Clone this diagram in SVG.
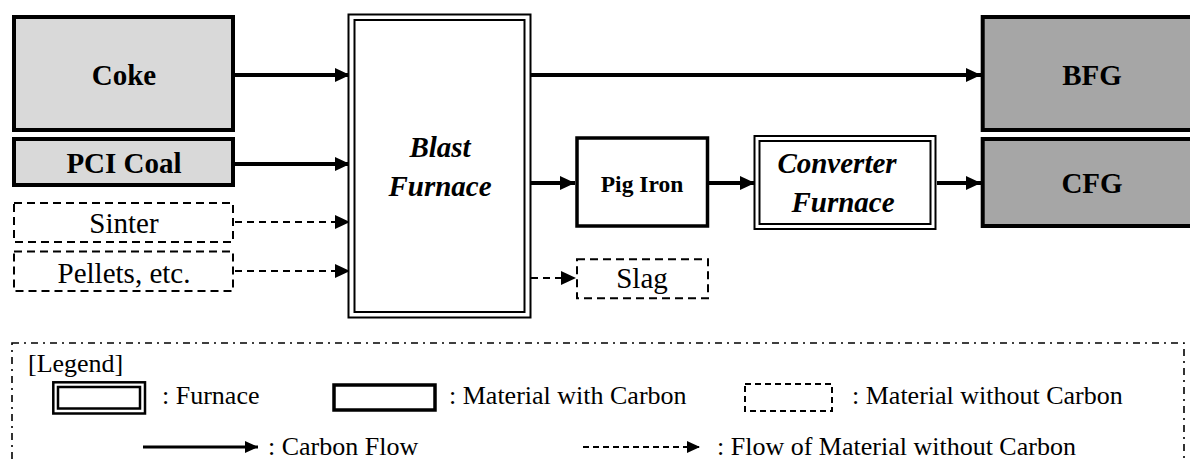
<svg xmlns="http://www.w3.org/2000/svg" width="1190" height="462" viewBox="0 0 1190 462">
<style>
text{font-family:'Liberation Serif','Times New Roman','DejaVu Serif',serif;fill:#000}
.b{font-weight:bold;font-size:29px}
.bi{font-weight:bold;font-style:italic;font-size:29px}
.r{font-size:29px}
.lg{font-size:26px}
.solid{fill:none;stroke:#000;stroke-width:4}
.light{fill:#d9d9d9;stroke:#000;stroke-width:4}
.dark{fill:#a6a6a6;stroke:#000;stroke-width:4}
.dash{fill:#fff;stroke:#000;stroke-width:2;stroke-dasharray:8 5}
.fur{fill:#fff;stroke:#000;stroke-width:2}
.cf{fill:none;stroke:#000;stroke-width:4;marker-end:url(#ah)}
.df{fill:none;stroke:#000;stroke-width:2;stroke-dasharray:7 5;marker-end:url(#ah)}
</style>
<defs>
<marker id="ah" markerUnits="userSpaceOnUse" markerWidth="15" markerHeight="14" refX="15" refY="7" orient="auto">
<path d="M0,0 L15,7 L0,14 z" fill="#000"/>
</marker>
<marker id="ahs" markerUnits="userSpaceOnUse" markerWidth="13" markerHeight="12" refX="13" refY="6" orient="auto">
<path d="M0,0 L13,6 L0,12 z" fill="#000"/>
</marker>
</defs>

<g id="connectors">
<line class="cf" x1="235" y1="75" x2="350" y2="75"/>
<line class="cf" x1="235" y1="164" x2="350" y2="164"/>
<line class="df" x1="235" y1="222" x2="350" y2="222"/>
<line class="df" x1="235" y1="271" x2="350" y2="271"/>
<line class="cf" x1="531" y1="75" x2="981" y2="75"/>
<line class="cf" x1="531" y1="183" x2="575" y2="183"/>
<line class="cf" x1="709" y1="183" x2="755" y2="183"/>
<line class="cf" x1="937" y1="183" x2="981" y2="183"/>
<line class="df" x1="531" y1="278" x2="576" y2="278"/>
</g>

<g id="coke" font-family="Liberation Serif, serif">
<rect class="light" x="14" y="17" width="219" height="113"/>
<text class="b" x="124" y="85" text-anchor="middle">Coke</text>
</g>
<g id="pci-coal">
<rect class="light" x="14" y="139" width="219" height="46"/>
<text class="b" x="124" y="173" text-anchor="middle">PCI Coal</text>
</g>
<g id="sinter">
<rect class="dash" x="14" y="203" width="219" height="39"/>
<text class="r" x="124" y="233" text-anchor="middle">Sinter</text>
</g>
<g id="pellets">
<rect class="dash" x="14" y="251.5" width="219" height="39.5"/>
<text class="r" x="124" y="283" text-anchor="middle">Pellets, etc.</text>
</g>

<g id="blast-furnace">
<rect class="fur" x="348.5" y="14.5" width="182" height="303"/>
<rect class="fur" x="354.5" y="20" width="170" height="292"/>
<text class="bi" x="440" y="157" text-anchor="middle">Blast</text>
<text class="bi" x="440" y="196" text-anchor="middle">Furnace</text>
</g>

<g id="pig-iron">
<rect class="solid" x="577" y="138" width="130.5" height="88" style="stroke-width:3.5;fill:#fff"/>
<text x="642" y="192" text-anchor="middle" style="font-weight:bold;font-size:23.5px">Pig Iron</text>
</g>

<g id="slag">
<rect class="dash" x="577" y="259.3" width="131" height="39"/>
<text class="r" x="642" y="288" text-anchor="middle">Slag</text>
</g>

<g id="converter-furnace">
<rect class="fur" x="754.5" y="136" width="181" height="93"/>
<rect class="fur" x="759.5" y="141" width="171" height="83"/>
<text class="bi" x="837" y="173" text-anchor="middle">Converter</text>
<text class="bi" x="843" y="212" text-anchor="middle">Furnace</text>
</g>

<g id="bfg">
<rect class="dark" x="982.7" y="17" width="230" height="113"/>
<text class="b" x="1092" y="85" text-anchor="middle">BFG</text>
</g>
<g id="cfg">
<rect class="dark" x="982.7" y="139" width="230" height="87"/>
<text class="b" x="1092" y="193" text-anchor="middle">CFG</text>
</g>

<g id="legend">
<rect x="12" y="343" width="1172" height="140" fill="none" stroke="#000" stroke-width="1.6" stroke-dasharray="7 5 2 5"/>
<text class="lg" x="28" y="372">[Legend]</text>
<rect x="53.3" y="382.3" width="91.7" height="31.2" fill="#fff" stroke="#000" stroke-width="2.5"/>
<rect x="58" y="387" width="82" height="21.5" fill="#fff" stroke="#000" stroke-width="2.5"/>
<text class="lg" x="162" y="404">: Furnace</text>
<rect x="334" y="385" width="101" height="25" fill="#fff" stroke="#000" stroke-width="3.5"/>
<text class="lg" x="449" y="404">: Material with Carbon</text>
<rect x="745" y="384" width="87" height="27" fill="#fff" stroke="#000" stroke-width="2" stroke-dasharray="6 4"/>
<text class="lg" x="852" y="404">: Material without Carbon</text>
<line x1="143" y1="447" x2="258" y2="447" stroke="#000" stroke-width="3" marker-end="url(#ahs)"/>
<text class="lg" x="268" y="455">: Carbon Flow</text>
<line x1="583" y1="447" x2="700" y2="447" stroke="#000" stroke-width="2" stroke-dasharray="6 4" marker-end="url(#ahs)"/>
<text class="lg" x="717" y="455">: Flow of Material without Carbon</text>
</g>
</svg>
